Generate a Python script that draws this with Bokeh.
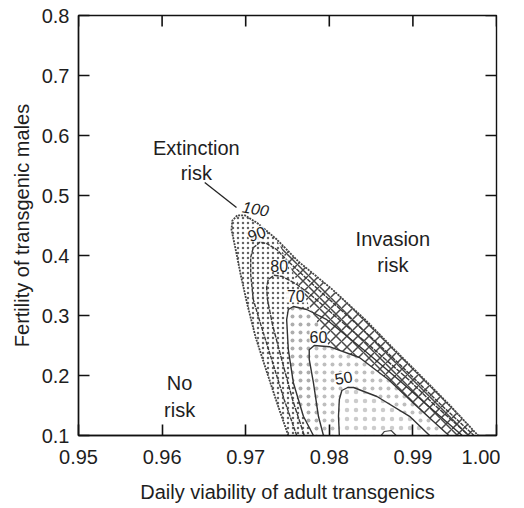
import math
from bokeh.plotting import figure
from bokeh.models import FixedTicker, PrintfTickFormatter, Range1d, ColumnDataSource
from bokeh.core.properties import value
from bokeh.embed import file_html
from bokeh.resources import INLINE

# ---------------- data ----------------
x_ticks = [0.95, 0.96, 0.97, 0.98, 0.99, 1.00]
y_ticks = [0.1, 0.2, 0.3, 0.4, 0.5, 0.6, 0.7, 0.8]

# contour lines (daily viability, male fertility)
x100 = [0.9751, 0.9738, 0.9725, 0.9712, 0.9702, 0.9694, 0.9688, 0.9683, 0.9684, 0.9690,
        0.9699, 0.9715, 0.9737, 0.9763, 0.9804, 0.9843, 0.9878, 0.9914, 0.9943, 0.9978]
y100 = [0.100, 0.152, 0.207, 0.263, 0.318, 0.368, 0.410, 0.443, 0.458, 0.467,
        0.467, 0.453, 0.427, 0.390, 0.343, 0.293, 0.243, 0.193, 0.152, 0.100]

x90 = [0.9761, 0.9746, 0.9731, 0.9718, 0.9709, 0.9706, 0.9706, 0.9709, 0.9717, 0.9725,
       0.9737, 0.9751, 0.9791, 0.9827, 0.9866, 0.9903, 0.9933, 0.9973]
y90 = [0.100, 0.160, 0.227, 0.285, 0.327, 0.368, 0.397, 0.413, 0.422, 0.420,
       0.410, 0.390, 0.338, 0.293, 0.243, 0.193, 0.152, 0.100]

x80 = [0.9770, 0.9756, 0.9743, 0.9732, 0.9726, 0.9725, 0.9727, 0.9734, 0.9744, 0.9761,
       0.9779, 0.9812, 0.9854, 0.9895, 0.9925, 0.9967]
y80 = [0.100, 0.160, 0.227, 0.285, 0.327, 0.347, 0.360, 0.367, 0.365, 0.352,
       0.333, 0.293, 0.243, 0.193, 0.152, 0.100]

x70 = [0.9781, 0.9769, 0.9757, 0.9751, 0.9749, 0.9751, 0.9757, 0.9773, 0.9797, 0.9841,
       0.9883, 0.9916, 0.9959]
y70 = [0.100, 0.132, 0.188, 0.243, 0.293, 0.310, 0.315, 0.310, 0.293, 0.243,
       0.193, 0.152, 0.100]

x60 = [0.9793, 0.9787, 0.9781, 0.9776, 0.9776, 0.9782, 0.9800, 0.9836, 0.9871, 0.9902, 0.9943]
y60 = [0.100, 0.132, 0.188, 0.227, 0.243, 0.250, 0.248, 0.230, 0.193, 0.152, 0.100]

x50 = [0.9812, 0.9811, 0.9812, 0.9815, 0.9822, 0.9829, 0.9857, 0.9896, 0.9920]
y50 = [0.100, 0.132, 0.160, 0.175, 0.180, 0.180, 0.165, 0.132, 0.100]

# small closed contour touching the bottom edge
x40 = [0.9862, 0.9866, 0.9874, 0.9880]
y40 = [0.100, 0.1067, 0.1083, 0.100]

contour_labels = ["100", "90", "80", "70", "60", "50"]

# ---------------- figure ----------------
FONT_NAME = "Liberation Sans"
FONT = value(FONT_NAME)
TXT = "#1e1e1e"
X0, X1, Y0, Y1 = 0.95, 1.0, 0.1, 0.8

p = figure(width=500, height=506, x_range=Range1d(X0, X1), y_range=Range1d(Y0, Y1),
           output_backend="svg", toolbar_location=None,
           min_border_left=78, min_border_right=4, min_border_top=15, min_border_bottom=71)
p.xgrid.visible = False
p.ygrid.visible = False
p.outline_line_color = "#111111"
p.outline_line_width = 1.4
p.background_fill_color = "white"
p.border_fill_color = "white"


def style_axis(ax, ticks, fmt):
    ax.ticker = FixedTicker(ticks=ticks)
    ax.formatter = PrintfTickFormatter(format=fmt)
    ax.major_tick_in = 11
    ax.major_tick_out = 0
    ax.minor_tick_line_color = None
    ax.major_tick_line_width = 1.6
    ax.major_tick_line_color = "#111111"
    ax.axis_line_color = "#111111"
    ax.axis_line_width = 1.4
    ax.major_label_text_font = FONT_NAME
    ax.major_label_text_font_size = "20px"
    ax.major_label_text_color = TXT
    ax.axis_label_text_font = FONT_NAME
    ax.axis_label_text_font_size = "20px"
    ax.axis_label_text_font_style = "normal"
    ax.axis_label_text_color = TXT


style_axis(p.xaxis[0], x_ticks, "%.2f")
style_axis(p.yaxis[0], y_ticks, "%.1f")
p.xaxis[0].axis_label = "Daily viability of adult transgenics"
p.yaxis[0].axis_label = "Fertility of transgenic males"
p.xaxis[0].major_label_standoff = 14
p.xaxis[0].axis_label_standoff = 14
p.yaxis[0].major_label_standoff = 9
p.yaxis[0].axis_label_standoff = 6

# mirrored inward ticks on the top and right edges
p.ray(x=x_ticks, y=[Y1] * len(x_ticks), length=11, length_units="screen",
      angle=-math.pi / 2, line_color="#111111", line_width=1.6)
p.ray(x=[X1] * len(y_ticks), y=y_ticks, length=11, length_units="screen",
      angle=math.pi, line_color="#111111", line_width=1.6)

# ---------------- shaded regions ----------------
p.patch(x100, y100, fill_color="white", line_color=None,
        hatch_pattern="dot", hatch_color="#222222", hatch_scale=5, hatch_weight=1.2, hatch_alpha=0.7)
p.patch(x70, y70, fill_color="white", line_color=None,
        hatch_pattern="dot", hatch_color="#333333", hatch_scale=8, hatch_weight=0.8, hatch_alpha=0.4)
p.patch(x60, y60, fill_color="white", line_color=None,
        hatch_pattern="dot", hatch_color="#444444", hatch_scale=8, hatch_weight=0.8, hatch_alpha=0.35)

band_x = x100[12:] + x60[6:][::-1]
band_y = y100[12:] + y60[6:][::-1]
p.patch(band_x, band_y, fill_color="white", line_color=None,
        hatch_pattern="diagonal_cross", hatch_color="#1a1a1a", hatch_scale=11, hatch_weight=1.5, hatch_alpha=0.8)

p.patch(x50, y50, fill_color="white", line_color=None,
        hatch_pattern="dot", hatch_color="#555555", hatch_scale=9, hatch_weight=0.8, hatch_alpha=0.3)

# ---------------- contour lines ----------------
p.line(x100, y100, line_color="#444444", line_width=1.8, line_dash="2 1")
p.line(x90, y90, line_color="#3a3a3a", line_width=1.4, line_dash="4 1")
p.line(x80, y80, line_color="#3a3a3a", line_width=1.4, line_dash="5 1")
p.line(x70, y70, line_color="#333333", line_width=1.4)
p.line(x60, y60, line_color="#333333", line_width=1.4)
p.line(x50, y50, line_color="#333333", line_width=1.4)
p.line(x40, y40, line_color="#444444", line_width=1.2)

# ---------------- contour labels ----------------
lab_src = ColumnDataSource(dict(
    text=contour_labels,
    x=[0.9712, 0.9713, 0.9740, 0.9760, 0.9787, 0.9817],
    y=[0.4783, 0.4367, 0.3833, 0.3317, 0.2650, 0.1967],
    angle=[-0.17, 0.35, 0.0, 0.0, 0.0, 0.17],
    style=["italic", "normal", "normal", "normal", "normal", "normal"],
))
p.text(x="x", y="y", text="text", angle="angle", source=lab_src,
       text_font=FONT, text_font_size="16px", text_font_style="style",
       text_color=TXT, text_align="center", text_baseline="middle",
       background_fill_color="white", background_fill_alpha=0.9)

# ---------------- annotations ----------------
ann_src = ColumnDataSource(dict(
    text=["Extinction", "risk", "Invasion", "risk", "No", "risk"],
    x=[0.9641, 0.9641, 0.9876, 0.9876, 0.9621, 0.9621],
    y=[0.580, 0.538, 0.4267, 0.385, 0.1883, 0.1433],
))
p.text(x="x", y="y", text="text", source=ann_src, text_font=FONT, text_font_size="20px",
       text_color=TXT, text_align="center", text_baseline="middle")
p.segment(x0=[0.9651], y0=[0.5217], x1=[0.9689], y1=[0.4800], line_color="#222222", line_width=1.3)

open("out.html", "w").write(file_html(p, INLINE))
